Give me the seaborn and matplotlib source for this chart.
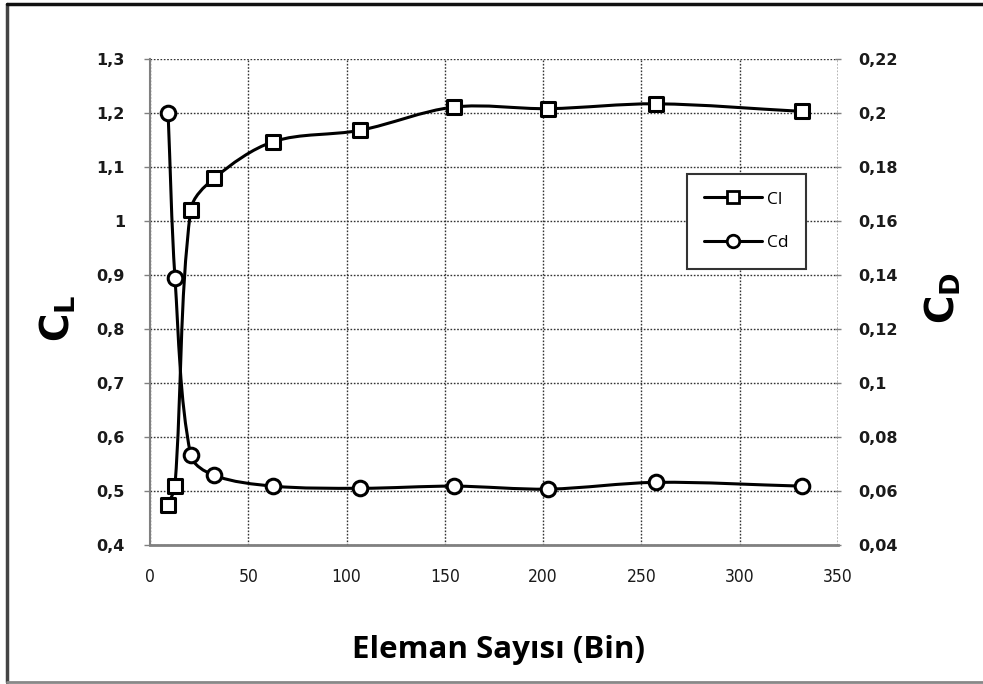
import numpy as np
import pandas as pd
import matplotlib
matplotlib.use("Agg")
import matplotlib.pyplot as plt
import seaborn as sns
from matplotlib.path import Path
from matplotlib.patches import PathPatch
from matplotlib.lines import Line2D
from matplotlib.ticker import FuncFormatter

# ---- data ----
elements = [9.2, 12.7, 20.7, 32.6, 62.8, 106.9, 154.6, 202.7, 257.6, 331.6]
cl_values = [0.474, 0.51, 1.02, 1.079, 1.147, 1.168, 1.211, 1.208, 1.217, 1.203]
cd_values = [0.200, 0.139, 0.0733, 0.0658, 0.0618, 0.0610, 0.0618, 0.0607, 0.0632, 0.0618]
x_ticks = [0, 50, 100, 150, 200, 250, 300, 350]
cl_ticks = [0.4, 0.5, 0.6, 0.7, 0.8, 0.9, 1.0, 1.1, 1.2, 1.3]
cd_ticks = [0.04, 0.06, 0.08, 0.10, 0.12, 0.14, 0.16, 0.18, 0.20, 0.22]
series_names = ["Cl", "Cd"]
x_label = "Eleman Sayısı (Bin)"

df = pd.DataFrame({"x": elements, "cl": cl_values, "cd": cd_values})

sns.set_style("white")
plt.rcParams["font.family"] = ["DejaVu Sans"]
plt.rcParams["text.color"] = "black"

fig = plt.figure(figsize=(9.83, 6.84), dpi=100)
W, H = 983, 684
ax = fig.add_axes([150 / W, 1 - 545 / H, (838 - 150) / W, (545 - 59) / H])
ax2 = ax.twinx()

ax.set_xlim(0, 350)
ax.set_ylim(0.4, 1.3)
ax2.set_ylim(0.04, 0.22)


def smooth_path(a, xs, ys):
    """Bezier smoothing computed in screen space (chord-length weighted tangents)."""
    tr = a.transData
    pts = tr.transform(np.column_stack([xs, ys]).astype(float))
    n = len(pts)
    d = np.linalg.norm(np.diff(pts, axis=0), axis=1)
    verts = [pts[0]]
    codes = [Path.MOVETO]
    for i in range(n - 1):
        p1, p2 = pts[i], pts[i + 1]
        if i > 0:
            t1 = (p2 - pts[i - 1]) * d[i] / (d[i - 1] + d[i])
        else:
            t1 = (p2 - p1)
        if i + 2 < n:
            t2 = (pts[i + 2] - p1) * d[i] / (d[i] + d[i + 1])
        else:
            t2 = (p2 - p1)
        c1 = p1 + t1 / 3.0
        c2 = p2 - t2 / 3.0
        verts += [c1, c2, p2]
        codes += [Path.CURVE4] * 3
    verts = tr.inverted().transform(np.array(verts))
    return Path(verts, codes)


lw = 2.2
ax.add_patch(PathPatch(smooth_path(ax, df["x"], df["cl"]), fill=False, edgecolor="black", lw=lw, zorder=3))
ax2.add_patch(PathPatch(smooth_path(ax2, df["x"], df["cd"]), fill=False, edgecolor="black", lw=lw, zorder=3))

sns.scatterplot(data=df, x="x", y="cl", ax=ax, marker="s", s=100, facecolor="white",
                edgecolor="black", linewidth=2.2, zorder=4, legend=False)
sns.scatterplot(data=df, x="x", y="cd", ax=ax2, marker="o", s=110, facecolor="white",
                edgecolor="black", linewidth=2.2, zorder=4, legend=False)

ax.set_xlim(0, 350)
ax.set_ylim(0.4, 1.3)
ax2.set_ylim(0.04, 0.22)
ax.set_xticks(x_ticks)
ax.set_yticks(cl_ticks)
ax2.set_yticks(cd_ticks)


def comma_fmt(v, pos=None):
    s = f"{v:.2f}".rstrip("0").rstrip(".")
    return s.replace(".", ",")


ax.yaxis.set_major_formatter(FuncFormatter(comma_fmt))
ax2.yaxis.set_major_formatter(FuncFormatter(comma_fmt))

ax.grid(True, which="major", axis="both", linestyle=(0, (1.2, 1.2)), color="#333333", linewidth=1.0)
ax2.grid(False)
ax.set_axisbelow(True)
ax.axvline(350, linestyle=(0, (1.2, 1.2)), color="#333333", linewidth=1.0, zorder=1)

for a in (ax, ax2):
    for s in ("top", "right", "left", "bottom"):
        a.spines[s].set_visible(False)
ax.spines["left"].set_visible(True)
ax.spines["left"].set_color("#808080")
ax.spines["left"].set_linewidth(1.5)
ax.spines["bottom"].set_visible(True)
ax.spines["bottom"].set_color("#808080")
ax.spines["bottom"].set_linewidth(2.0)

ax.tick_params(axis="y", direction="out", length=4, width=1, color="#808080", pad=14,
               labelsize=11.5)
ax.tick_params(axis="x", direction="inout", length=5, width=1, color="#808080", pad=14,
               labelsize=12.5)
ax2.tick_params(axis="y", direction="inout", length=5, width=1, color="#808080", pad=12,
                labelsize=11.5)
for lab in ax.get_yticklabels() + ax2.get_yticklabels():
    lab.set_fontweight("bold")
    lab.set_color("#1a1a1a")
for lab in ax.get_xticklabels():
    lab.set_fontstretch("condensed")
    lab.set_color("#1a1a1a")

ax.set_xlabel("")
ax.set_ylabel("")
ax2.set_ylabel("")

fig.text(499 / W, 1 - 650 / H, x_label, ha="center", va="center", color="black",
         fontsize=22.5, fontweight="bold", family=["Open Sans", "DejaVu Sans"])
fig.text(58 / W, 1 - 318 / H, r"$\mathbf{C_L}$", ha="center", va="center", rotation=90,
         fontsize=28, color="black")
fig.text(943 / W, 1 - 298 / H, r"$\mathbf{C_D}$", ha="center", va="center", rotation=90,
         fontsize=28, color="black")

handles = [
    Line2D([], [], color="black", lw=2.2, marker="s", markersize=9, markerfacecolor="white",
           markeredgewidth=2),
    Line2D([], [], color="black", lw=2.2, marker="o", markersize=9, markerfacecolor="white",
           markeredgewidth=2),
]
leg = ax.legend(handles, series_names, loc="upper left",
                bbox_to_anchor=((687 - 150) / (838 - 150), 1 - (174 - 59) / (545 - 59)),
                borderaxespad=0.0,
                frameon=True, fancybox=False, edgecolor="#333333", framealpha=1,
                handlelength=3.3, borderpad=1.0, labelspacing=1.6, handletextpad=0.3,
                prop={"size": 12.5, "family": ["Open Sans", "DejaVu Sans"]})
leg.get_frame().set_linewidth(1.5)
for t in leg.get_texts():
    t.set_color("black")
leg.set_zorder(6)

# outer chart border
fig.add_artist(Line2D([7 / W, 7 / W], [1 - 682 / H, 1 - 4 / H], color="#444444", lw=2.5))
fig.add_artist(Line2D([7 / W, 1.0], [1 - 4 / H, 1 - 4 / H], color="#111111", lw=2.5))
fig.add_artist(Line2D([7 / W, 1.0], [1 - 682 / H, 1 - 682 / H], color="#888888", lw=2.0))

fig.savefig("out.png", dpi=100)
